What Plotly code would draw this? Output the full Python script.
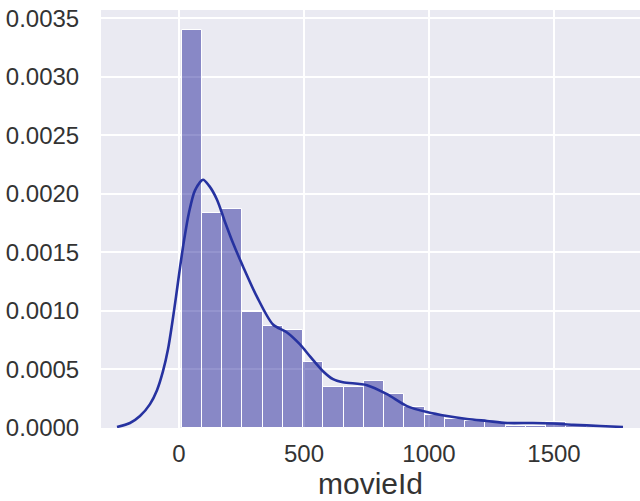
import plotly.graph_objects as go

# Histogram of movieId (density-normalised), 20 equal bins
bin_start = 10
bin_width = 81
density = [0.00340, 0.00184, 0.00187, 0.00099, 0.00087, 0.00084, 0.00056,
           0.00035, 0.00035, 0.00040, 0.00029, 0.00018, 0.00011, 0.000077,
           0.000060, 0.000050, 0.000020, 0.000020, 0.000050, 0.000015]

# Kernel density estimate of movieId
kde_x = [-248, -196, -156, -116, -88, -64, -44, -28, -12, 4, 20, 40, 64, 96,
         120, 152, 184, 216, 256, 312, 376, 432, 484, 524, 576, 616, 656, 752,
         832, 912, 992, 1072, 1152, 1232, 1312, 1416, 1496, 1576, 1684, 1776]
kde_y = [0.0000085, 0.000043, 0.000102, 0.000204, 0.000323, 0.000485,
         0.000672, 0.000884, 0.00112, 0.00137, 0.00160, 0.00184, 0.00203,
         0.00212, 0.00207, 0.00195, 0.00176, 0.00158, 0.00138, 0.00112,
         0.000884, 0.000816, 0.000714, 0.000612, 0.000485, 0.000417, 0.000391,
         0.000366, 0.000289, 0.000187, 0.000136, 0.000102, 0.000077, 0.000060,
         0.000043, 0.000043, 0.000038, 0.000028, 0.000017, 0.0000085]

x_ticks = [0, 500, 1000, 1500]
y_ticks = [0.0, 0.0005, 0.0010, 0.0015, 0.0020, 0.0025, 0.0030, 0.0035]

centers = [bin_start + bin_width * (i + 0.5) for i in range(len(density))]

fig = go.Figure()
fig.add_trace(go.Bar(
    x=centers, y=density, width=bin_width,
    marker=dict(color="rgba(0,0,139,0.42)", line=dict(color="white", width=1)),
    hoverinfo="skip", showlegend=False,
))
fig.add_trace(go.Scatter(
    x=kde_x, y=kde_y, mode="lines",
    line=dict(color="rgb(38,50,160)", width=2.6, shape="spline", smoothing=0.8),
    hoverinfo="skip", showlegend=False,
))

font = dict(family="Liberation Sans, Arial, sans-serif", size=24, color="#333333")

fig.update_layout(
    width=640, height=501,
    margin=dict(l=101, r=0, t=10, b=73),
    paper_bgcolor="white",
    plot_bgcolor="#EAEAF2",
    font=font,
    bargap=0,
)
fig.update_xaxes(
    range=[-312, 1844], tickvals=x_ticks, ticktext=[str(v) for v in x_ticks],
    showgrid=True, gridcolor="white", gridwidth=1.6, zeroline=False,
    ticks="outside", ticklen=4, tickcolor="rgba(0,0,0,0)",
    title=dict(text="movieId", standoff=4,
               font=dict(family="Liberation Sans, Arial, sans-serif", size=30, color="#333333")),
    showline=False,
)
fig.update_yaxes(
    range=[0, 0.00357], tickvals=y_ticks, tickformat=".4f",
    showgrid=True, gridcolor="white", gridwidth=1.6, zeroline=False,
    ticks="outside", ticklen=16, tickcolor="rgba(0,0,0,0)",
    showline=False,
)

fig.write_html("out.html")
